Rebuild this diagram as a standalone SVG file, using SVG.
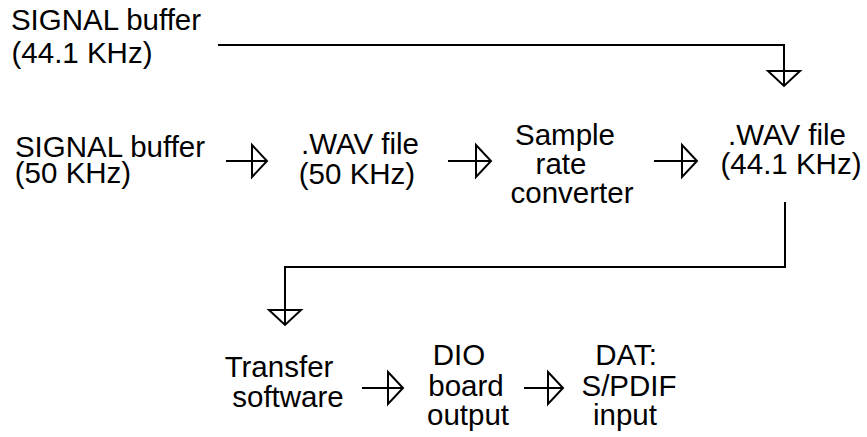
<svg xmlns="http://www.w3.org/2000/svg" width="867" height="437" viewBox="0 0 867 437">
<defs>
<marker id="tri" markerUnits="userSpaceOnUse" viewBox="-2 -2 19 36" refX="15" refY="16" markerWidth="19" markerHeight="36" orient="auto" overflow="visible">
<path d="M0,0 L15,16 L0,32 Z" fill="none" stroke="#000" stroke-width="2" stroke-linejoin="miter"/>
</marker>
<style>
text{font-family:"Liberation Sans",Arial,sans-serif;font-size:29.5px;fill:#000}
.m{text-anchor:middle}
.c{fill:none;stroke:#000;stroke-width:2;marker-end:url(#tri)}
</style>
</defs>
<rect width="867" height="437" fill="#fff"/>
<g id="sig441"><text class="m" x="106" y="30">SIGNAL buffer</text><text class="m" x="82" y="63">(44.1 KHz)</text></g>
<g id="sig50"><text class="m" x="110" y="157">SIGNAL buffer</text><text class="m" x="73" y="183">(50 KHz)</text></g>
<g id="wav50"><text class="m" x="360" y="154">.WAV file</text><text class="m" x="357" y="184">(50 KHz)</text></g>
<g id="src"><text class="m" x="565" y="145">Sample</text><text class="m" x="561" y="174">rate</text><text class="m" x="572" y="203">converter</text></g>
<g id="wav441"><text class="m" x="787" y="145">.WAV file</text><text class="m" x="791" y="174">(44.1 KHz)</text></g>
<g id="transfer"><text class="m" x="279" y="377">Transfer</text><text class="m" x="288" y="407">software</text></g>
<g id="dio"><text class="m" x="459" y="365">DIO</text><text class="m" x="466" y="396">board</text><text class="m" x="468" y="425">output</text></g>
<g id="dat"><text class="m" x="626" y="365">DAT:</text><text class="m" x="629" y="396">S/PDIF</text><text class="m" x="625" y="425">input</text></g>
<g id="connectors">
<path class="c" d="M218,45 H784 V86"/>
<path class="c" d="M226,161 H267"/>
<path class="c" d="M448,161 H491"/>
<path class="c" d="M654,161 H697"/>
<path class="c" d="M785,202 V267 H285 V325"/>
<path class="c" d="M362,388 H403"/>
<path class="c" d="M524,388 H563"/>
</g>
</svg>
